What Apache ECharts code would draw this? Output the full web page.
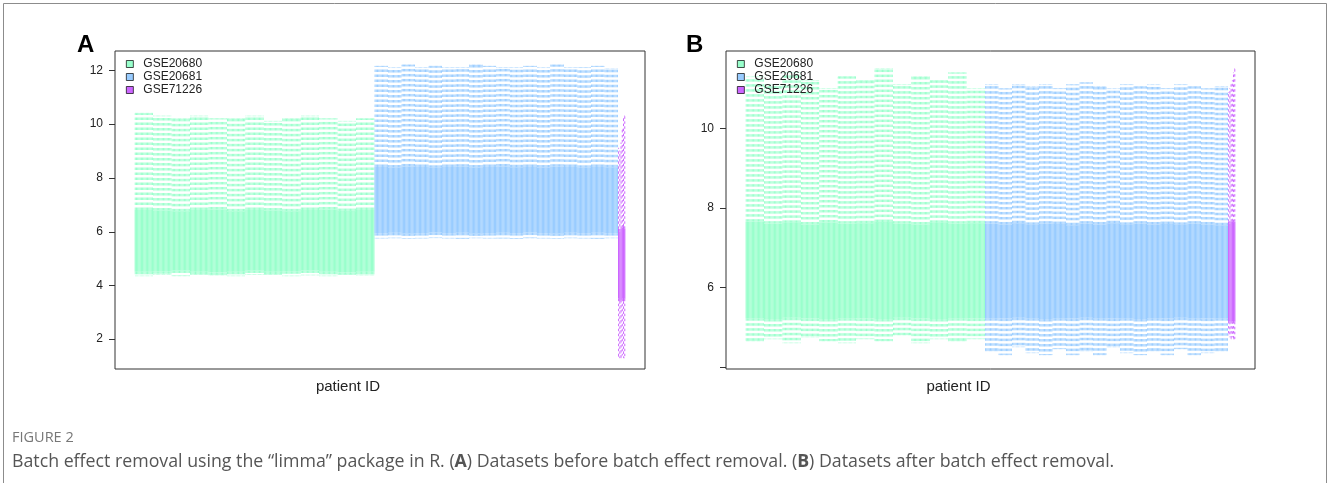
<!DOCTYPE html>
<html><head><meta charset="utf-8">
<script src="https://cdn.jsdelivr.net/npm/echarts@6/dist/echarts.min.js"></script>
<style>html,body{margin:0;padding:0;background:#fff}#c{width:1328px;height:483px}</style>
</head><body><div id="c"></div>
<script>
// ---------- data ----------
const groupNames = ['GSE20680', 'GSE20681', 'GSE71226'];
const groupColors = ['#99FFCC', '#99CCFF', '#CC66FF'];
const sampleCounts = [195, 198, 6];
const yTicksA = [2, 4, 6, 8, 10, 12];
const yLabelsA = [2, 4, 6, 8, 10, 12];
const yTicksB = [4, 6, 8, 10];
const yLabelsB = [6, 8, 10];

// Panel A (before batch effect removal); each array entry = one block of consecutive samples
const beforeHigh = [
  [10.4, 10.3, 10.2, 10.3, 10.2, 10.2, 10.3, 10.1, 10.2, 10.3, 10.2, 10.1, 10.2],
  [12.15, 12.1, 12.2, 12.1, 12.15, 12.1, 12.1, 12.2, 12.15, 12.1, 12.1, 12.15, 12.1, 12.2, 12.1, 12.1, 12.15, 12.05],
  [9.1, 9.0, 9.3, 9.8, 10.2, 10.3]
];
const beforeQ3 = [
  [6.8, 6.78, 6.75, 6.8, 6.82, 6.75, 6.8, 6.78, 6.75, 6.8, 6.82, 6.76, 6.8],
  [8.4, 8.38, 8.42, 8.4, 8.37, 8.4, 8.41, 8.38, 8.4, 8.42, 8.39, 8.4, 8.38, 8.41, 8.4, 8.37, 8.4, 8.39],
  [6.1, 6.0, 6.1, 6.15, 6.2, 6.1]
];
const beforeMedian = [5.6, 7.1, 4.8];
const beforeQ1 = [
  [4.5, 4.52, 4.55, 4.5, 4.48, 4.5, 4.55, 4.5, 4.52, 4.55, 4.5, 4.48, 4.5],
  [5.94, 5.95, 5.93, 5.94, 5.96, 5.94, 5.95, 5.93, 5.94, 5.95, 5.94, 5.96, 5.94, 5.93, 5.95, 5.94, 5.95, 5.94],
  [3.5, 3.4, 3.45, 3.5, 3.4, 3.5]
];
const beforeLow = [
  [4.35, 4.4, 4.35, 4.4, 4.38, 4.35, 4.4, 4.4, 4.35, 4.38, 4.35, 4.4, 4.38],
  [5.75, 5.76, 5.74, 5.75, 5.77, 5.75, 5.74, 5.76, 5.75, 5.75, 5.74, 5.76, 5.75, 5.74, 5.76, 5.75, 5.74, 5.76],
  [1.35, 1.3, 1.3, 1.4, 1.3, 1.3]
];

// Panel B (after batch effect removal)
const afterHigh = [
  [11.3, 11.1, 11.4, 11.2, 11.0, 11.3, 11.2, 11.5, 11.1, 11.3, 11.2, 11.4, 11.0],
  [11.1, 11.0, 11.1, 11.05, 11.1, 11.0, 11.1, 11.15, 11.05, 11.0, 11.1, 11.05, 11.1, 11.0, 11.1, 11.05, 11.0, 11.05],
  [10.9, 11.0, 11.1, 11.2, 11.4, 11.5]
];
const afterQ3 = [
  [7.65, 7.6, 7.62, 7.58, 7.63, 7.6, 7.61, 7.64, 7.6, 7.58, 7.62, 7.6, 7.61],
  [7.6, 7.58, 7.61, 7.57, 7.6, 7.59, 7.56, 7.6, 7.58, 7.61, 7.57, 7.6, 7.58, 7.59, 7.57, 7.6, 7.58, 7.56],
  [7.65, 7.6, 7.65, 7.66, 7.64, 7.65]
];
const afterMedian = [6.3, 6.3, 6.3];
const afterQ1 = [
  [5.22, 5.2, 5.23, 5.21, 5.2, 5.22, 5.21, 5.2, 5.23, 5.21, 5.2, 5.22, 5.21],
  [5.22, 5.21, 5.23, 5.22, 5.2, 5.22, 5.21, 5.23, 5.22, 5.21, 5.22, 5.2, 5.22, 5.21, 5.23, 5.22, 5.21, 5.22],
  [5.15, 5.13, 5.15, 5.14, 5.15, 5.13]
];
const afterLow = [
  [4.65, 4.7, 4.6, 4.75, 4.65, 4.6, 4.7, 4.65, 4.8, 4.6, 4.7, 4.65, 4.7],
  [4.4, 4.3, 4.5, 4.35, 4.3, 4.45, 4.3, 4.4, 4.3, 4.5, 4.35, 4.3, 4.4, 4.3, 4.45, 4.3, 4.35, 4.4],
  [4.8, 4.75, 4.7, 4.75, 4.7, 4.7]
];

// ---------- build boxplot items (one per sample, sample i uses the block it falls in) ----------
function buildItems(g, low, q1, med, q3, high, startIndex) {
  const n = sampleCounts[g], nb = high[g].length, items = [];
  for (let i = 0; i < n; i++) {
    const b = Math.floor(i * nb / n);
    items.push([startIndex + i + 1, low[g][b], q1[g][b], med[g], q3[g][b], high[g][b]]);
  }
  return items;
}
const totalSamples = sampleCounts.reduce((a, b) => a + b, 0);
const ext = 0.04 * totalSamples;
const xMin = 0.5 - ext, xMax = totalSamples + 0.5 + ext;

function renderBox(params, api) {
  const x = api.value(0), lo = api.value(1), q1 = api.value(2), q3 = api.value(4), hi = api.value(5);
  const color = api.visual('color');
  const tl = api.coord([x - 0.5, q3]), br = api.coord([x + 0.5, q1]);
  const pHi = api.coord([x, hi]), pQ3 = api.coord([x, q3]), pQ1 = api.coord([x, q1]), pLo = api.coord([x, lo]);
  const sw = api.size([0.2, 0])[0];
  const dash = { stroke: color, lineWidth: 1, lineDash: [2.5, 2.5] };
  const solid = { stroke: color, lineWidth: 1 };
  return { type: 'group', children: [
    { type: 'line', shape: { x1: pHi[0], y1: pQ3[1], x2: pHi[0], y2: pHi[1] }, style: dash },
    { type: 'line', shape: { x1: pLo[0], y1: pQ1[1], x2: pLo[0], y2: pLo[1] }, style: dash },
    { type: 'line', shape: { x1: pHi[0] - sw, y1: pHi[1], x2: pHi[0] + sw, y2: pHi[1] }, style: solid },
    { type: 'line', shape: { x1: pLo[0] - sw, y1: pLo[1], x2: pLo[0] + sw, y2: pLo[1] }, style: solid },
    { type: 'rect', shape: { x: tl[0], y: tl[1], width: br[0] - tl[0], height: br[1] - tl[1] }, style: { fill: color } }
  ]};
}

// y-axis tick marks drawn outward from the plot frame, positioned by the axis scale
function renderTick(params, api) {
  const p = api.coord([xMin, api.value(0)]);
  const y = Math.round(p[1]) + 0.5, x = Math.round(p[0]);
  return { type: 'line', shape: { x1: x - 6, y1: y, x2: x, y2: y }, style: { stroke: '#333', lineWidth: 1 } };
}

const series = [];
[[beforeLow, beforeQ1, beforeMedian, beforeQ3, beforeHigh], [afterLow, afterQ1, afterMedian, afterQ3, afterHigh]].forEach((d, p) => {
  let start = 0;
  groupNames.forEach((name, g) => {
    series.push({
      type: 'custom', name: name, xAxisIndex: p, yAxisIndex: p,
      itemStyle: { color: groupColors[g] },
      renderItem: renderBox, encode: { x: 0, y: [1, 5] },
      data: buildItems(g, d[0], d[1], d[2], d[3], d[4], start)
    });
    start += sampleCounts[g];
  });
});
[yTicksA, yTicksB].forEach((ticks, p) => {
  series.push({
    type: 'custom', name: 'yticks' + p, xAxisIndex: p, yAxisIndex: p, clip: false, silent: true,
    renderItem: renderTick, encode: { y: 0 },
    data: ticks.map(v => [v])
  });
});

const FONT = 'Liberation Sans, Arial, sans-serif';
function yAxis(idx, min, max, labels) {
  return {
    type: 'value', gridIndex: idx, min: min, max: max,
    axisLine: { show: false }, splitLine: { show: false }, axisTick: { show: false },
    axisLabel: { customValues: labels, margin: 12, fontSize: 12, color: '#222', fontFamily: FONT }
  };
}
function xAxis(idx) {
  return {
    type: 'value', gridIndex: idx, min: xMin, max: xMax,
    axisLine: { show: false }, axisTick: { show: false }, axisLabel: { show: false }, splitLine: { show: false },
    name: 'patient ID', nameLocation: 'middle', nameGap: 10,
    nameTextStyle: { fontSize: 15, color: '#222', fontFamily: FONT, verticalAlign: 'top', padding: [0, 64, 0, 0] }
  };
}
function legend(left) {
  return {
    data: groupNames, left: left, top: 57.5, orient: 'vertical', padding: 0, itemGap: 0,
    icon: 'rect', itemWidth: 7, itemHeight: 7, selectedMode: false,
    itemStyle: { borderColor: '#000', borderWidth: 0.7 },
    textStyle: { fontSize: 12, color: '#222', fontFamily: FONT, lineHeight: 13, padding: [0, 0, 0, 5] }
  };
}

const CAP_FONT = 'Open Sans, sans-serif';
const option = {
  animation: false,
  backgroundColor: '#fff',
  grid: [
    { left: 115, top: 51, width: 530, height: 318, show: true, borderColor: '#333', borderWidth: 1 },
    { left: 726, top: 51, width: 529, height: 318, show: true, borderColor: '#333', borderWidth: 1 }
  ],
  xAxis: [xAxis(0), xAxis(1)],
  yAxis: [yAxis(0, 0.884, 12.716, yLabelsA), yAxis(1, 3.942, 11.946, yLabelsB)],
  legend: [legend(126), legend(737)],
  series: series,
  graphic: [
    { type: 'rect', shape: { x: 3.5, y: 3.5, width: 1323, height: 540 }, style: { fill: 'none', stroke: '#8c8c8c', lineWidth: 1 }, silent: true },
    { type: 'text', left: 77, top: 33, style: { text: 'A', fontSize: 24, fontWeight: 'bold', fill: '#000', fontFamily: FONT } },
    { type: 'text', left: 686, top: 33, style: { text: 'B', fontSize: 24, fontWeight: 'bold', fill: '#000', fontFamily: FONT } },
    { type: 'text', left: 12, top: 430, style: { text: 'FIGURE 2', fontSize: 14.5, fill: '#777', fontFamily: CAP_FONT } },
    { type: 'text', left: 12, top: 453, style: {
        text: 'Batch effect removal using the \u201climma\u201d package in R. ({b|A}) Datasets before batch effect removal. ({b|B}) Datasets after batch effect removal.',
        fontSize: 17.75, fill: '#555', fontFamily: CAP_FONT,
        rich: { b: { fontSize: 17.75, fontWeight: 'bold', fill: '#555', fontFamily: CAP_FONT } } } }
  ]
};
const chart = echarts.init(document.getElementById('c'), null, { renderer: 'canvas' });
chart.setOption(option);
</script></body></html>
